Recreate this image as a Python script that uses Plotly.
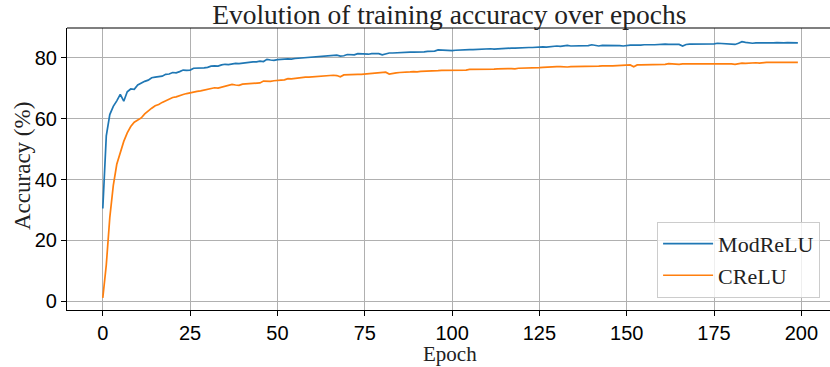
import plotly.graph_objects as go

# Training accuracy (%) per epoch for the two activation functions
epochs = list(range(200))

modrelu_acc = [
    30.5, 54.3, 61.3, 64.0, 65.8, 67.9, 65.7, 68.8, 69.7, 69.6, 71.0,
    71.7, 72.2, 72.6, 73.4, 73.6, 73.7, 73.9, 74.5, 74.6, 75.1,
    75.0, 75.4, 75.9, 75.8, 75.9, 76.5, 76.5, 76.7, 76.6, 76.8,
    77.2, 77.3, 77.2, 77.6, 77.8, 77.7, 77.9, 78.1, 78.0, 78.2,
    78.3, 78.5, 78.6, 78.6, 78.8, 78.7, 79.4, 79.2, 79.1, 79.3,
    79.3, 79.5, 79.6, 79.5, 79.7, 79.8, 79.9, 79.8, 80.1, 80.2,
    80.3, 80.2, 80.4, 80.5, 80.6, 80.6, 80.8, 80.5, 80.6, 81.0,
    81.0, 80.9, 81.3, 81.2, 81.2, 81.1, 81.3, 81.2, 81.3, 80.9,
    81.2, 81.5, 81.5, 81.6, 81.7, 81.6, 81.9, 81.8, 81.8, 81.8,
    81.7, 81.9, 82.0, 82.0, 82.1, 82.5, 82.4, 82.3, 82.3, 82.3,
    82.4, 82.5, 82.6, 82.5, 82.6, 82.6, 82.7, 82.6, 82.8, 82.8,
    82.9, 82.8, 82.9, 83.0, 82.9, 83.0, 83.1, 83.1, 83.2, 83.3,
    83.2, 83.3, 83.3, 83.4, 83.4, 83.5, 83.4, 83.6, 83.7, 83.8,
    83.7, 83.8, 84.0, 83.8, 83.8, 83.9, 83.8, 84.0, 83.9, 84.2,
    83.9, 83.8, 84.0, 84.0, 84.1, 83.9, 84.0, 83.9, 83.8, 84.0,
    84.1, 84.1, 84.0, 84.1, 84.2, 84.3, 84.2, 84.2, 84.3, 84.2,
    84.4, 84.3, 84.3, 84.5, 84.3, 83.8, 84.3, 84.4, 84.4, 84.5,
    84.5, 84.4, 84.3, 84.4, 84.5, 84.7, 84.6, 84.5, 84.6, 84.5,
    84.3, 84.7, 85.2, 85.0, 84.8, 84.7, 84.8, 84.7, 84.8, 84.8,
    84.7, 84.8, 84.9, 84.8, 84.8, 84.9, 84.8, 84.8, 84.8,
]

crelu_acc = [
    1.2, 12.0, 27.5, 38.0, 45.0, 49.0, 52.5, 55.3, 57.4, 58.8, 59.6,
    60.2, 61.5, 62.6, 63.4, 64.2, 64.6, 65.3, 65.8, 66.3, 66.9,
    67.1, 67.6, 67.9, 68.2, 68.5, 68.6, 68.9, 69.1, 69.4, 69.7,
    69.8, 70.1, 70.0, 70.3, 70.6, 70.7, 71.2, 71.0, 70.9, 71.3,
    71.4, 71.5, 71.6, 71.8, 71.7, 72.3, 72.2, 72.2, 72.4, 72.6,
    72.6, 72.7, 73.1, 73.0, 73.2, 73.3, 73.4, 73.6, 73.6, 73.7,
    73.8, 73.8, 73.9, 74.0, 74.0, 74.2, 74.1, 73.7, 74.3, 74.4,
    74.3, 74.4, 74.5, 74.5, 74.6, 74.5, 74.8, 74.9, 74.9, 75.1,
    75.2, 74.6, 74.9, 75.0, 75.1, 75.1, 75.2, 75.3, 75.4, 75.3,
    75.5, 75.5, 75.6, 75.7, 75.6, 75.7, 75.8, 75.8, 75.8, 75.9,
    75.9, 76.0, 76.0, 75.9, 76.1, 76.1, 76.2, 76.0, 76.0, 76.0,
    76.1, 76.2, 76.3, 76.4, 76.3, 76.4, 76.4, 76.3, 76.5, 76.5,
    76.6, 76.6, 76.7, 76.6, 76.7, 76.8, 76.9, 76.8, 76.9, 77.0,
    77.0, 76.9, 76.9, 77.0, 77.0, 77.1, 77.0, 77.0, 77.1, 77.2,
    77.1, 77.2, 77.3, 77.2, 77.3, 77.3, 77.4, 77.5, 77.4, 77.7,
    77.6, 77.0, 77.6, 77.6, 77.6, 77.7, 77.6, 77.7, 77.7, 77.7,
    77.8, 78.0, 77.9, 77.8, 77.8, 77.9, 77.9, 77.9, 78.0, 77.9,
    77.9, 78.0, 78.0, 77.9, 78.1, 78.1, 78.0, 78.1, 78.1, 77.9,
    77.8, 78.1, 78.2, 78.1, 78.2, 78.3, 78.3, 78.2, 78.4, 78.4,
    78.4, 78.4, 78.5, 78.5, 78.5, 78.6, 78.5, 78.5, 78.4,
]

x_ticks = [0, 25, 50, 75, 100, 125, 150, 175, 200]
y_ticks = [0, 20, 40, 60, 80]

SERIF = "Liberation Serif, DejaVu Serif, serif"
SANS = "Liberation Sans Narrow, Liberation Sans, DejaVu Sans Condensed, sans-serif"

fig = go.Figure()
fig.add_trace(go.Scatter(x=epochs, y=modrelu_acc, mode="lines", name="ModReLU",
                         line=dict(color="#1f77b4", width=1.7)))
fig.add_trace(go.Scatter(x=epochs, y=crelu_acc, mode="lines", name="CReLU",
                         line=dict(color="#ff7f0e", width=1.7)))

axis_common = dict(
    showgrid=True, gridcolor="#b0b0b0", gridwidth=1,
    showline=True, linecolor="black", linewidth=1.2,
    ticks="outside", ticklen=5, tickwidth=1.2, tickcolor="black",
    tickfont=dict(family=SANS, size=20, color="black"),
    zeroline=False,
)

fig.update_xaxes(range=[-10.25, 208.2], tickvals=x_ticks, mirror=False, **axis_common)
fig.update_yaxes(range=[-2.8, 89.7], tickvals=y_ticks, **axis_common)

# top frame line
fig.add_shape(type="line", xref="paper", yref="paper", x0=0, x1=1, y0=1, y1=1,
              line=dict(color="black", width=1.2))

# axis titles
fig.add_annotation(text="Epoch", xref="paper", yref="paper",
                   x=(450 - 67) / 763, y=-(354 - 310) / 282,
                   xanchor="center", yanchor="middle", showarrow=False,
                   font=dict(family=SERIF, size=21, color="#222"))
fig.add_annotation(text="Accuracy (%)", xref="paper", yref="paper",
                   x=-(67 - 22) / 763, y=(310 - 166) / 282,
                   xanchor="center", yanchor="middle", textangle=-90, showarrow=False,
                   font=dict(family=SERIF, size=23, color="#222"))

fig.update_layout(
    width=830, height=367,
    margin=dict(l=67, r=0, t=28, b=57),
    plot_bgcolor="white", paper_bgcolor="white",
    title=dict(text="Evolution of training accuracy over epochs",
               font=dict(family=SERIF, size=27.5, color="#222"),
               x=0.5413, xanchor="center", y=1 - 14 / 367, yanchor="middle"),
    legend=dict(x=0.987, y=0.043, xanchor="right", yanchor="bottom",
                bgcolor="rgba(255,255,255,0.8)", bordercolor="#cccccc", borderwidth=1,
                font=dict(family=SERIF, size=22, color="#222"),
                itemwidth=50, tracegroupgap=2),
    showlegend=True,
)

fig.write_html("out.html")
